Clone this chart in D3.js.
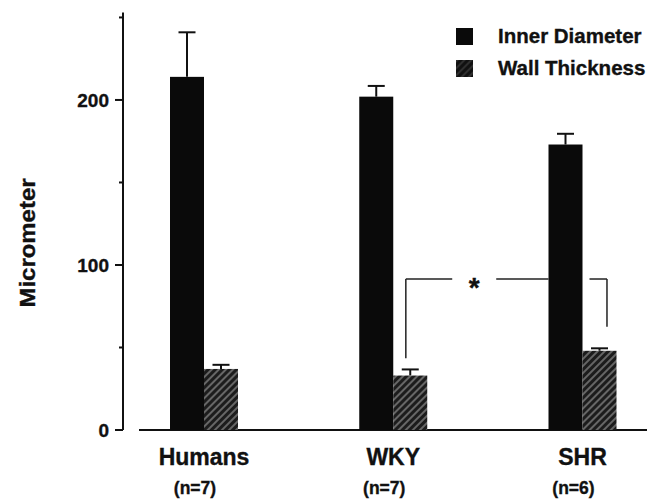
<!DOCTYPE html>
<html>
<head>
<meta charset="utf-8">
<script src="https://cdn.jsdelivr.net/npm/d3@7"></script>
<style>
    body { margin: 0; background: #fff; }
    text { font-family: "Liberation Sans", Arial, Helvetica, sans-serif; font-weight: bold; fill: #111; stroke: #111; stroke-width: 0.35px; }
</style>
</head>
<body>
<script>
(function(){

    var categories = ["Humans", "WKY", "SHR"];
    var sampleSizes = ["(n=7)", "(n=7)", "(n=6)"];
    var seriesNames = ["Inner Diameter", "Wall Thickness"];
    var innerDiameter = [214, 202, 173];
    var innerDiameterErr = [27, 6.5, 6.5];
    var wallThickness = [37, 33, 48];
    var wallThicknessErr = [2.5, 3.7, 1.5];
    var yTicks = [0, 50, 100, 150, 200, 250];
    var yLabels = [0, 100, 200];
    // significance bracket: WKY vs SHR wall thickness
    var bracketLevel = 91.5;
    var bracketFeet = [43.5, 62.5];

    window.onload = drawChart;

    function drawChart(){
        var width = 647,
            height = 500;

        var svg = d3.select("body")
            .append("svg")
            .attr("width", width)
            .attr("height", height);

        var defs = svg.append("defs");
        makeHatch(defs, "hatch", "#1c1c1c", "#b0b0b0");
        makeHatch(defs, "hatchDark", "#111", "#4a4a4a");

        var y = d3.scaleLinear()
            .domain([0, 253])
            .range([430, 12.5]);

        var x0 = d3.scalePoint()
            .domain(categories)
            .range([204, 582.5]);

        var x1 = d3.scaleBand()
            .domain(seriesNames)
            .range([-34, 34]);

        var bw = x1.bandwidth();

        var rows = categories.map(function(c, i){
            return [
                {cat: c, key: seriesNames[0], value: innerDiameter[i], err: innerDiameterErr[i]},
                {cat: c, key: seriesNames[1], value: wallThickness[i], err: wallThicknessErr[i]}
            ];
        });
        var bars = [].concat.apply([], rows);

        // y axis
        var yAxis = svg.append("g")
            .attr("class", "axis")
            .attr("transform", "translate(123,0)");

        yAxis.append("line")
            .attr("y1", y(253))
            .attr("y2", y(0))
            .attr("stroke", "#111")
            .attr("stroke-width", 2);

        yAxis.selectAll(".tick")
            .data(yTicks)
            .enter()
            .append("line")
            .attr("x1", d => yLabels.indexOf(d) >= 0 ? -8 : -4)
            .attr("x2", 0)
            .attr("y1", d => y(d))
            .attr("y2", d => y(d))
            .attr("stroke", "#111")
            .attr("stroke-width", 2);

        yAxis.selectAll(".tickLabel")
            .data(yLabels)
            .enter()
            .append("text")
            .attr("x", -14)
            .attr("y", d => y(d) + 7)
            .attr("text-anchor", "end")
            .style("font-size", "19px")
            .text(d => d);

        svg.append("text")
            .attr("transform", "translate(35," + 243 + ") rotate(-90)")
            .attr("text-anchor", "middle")
            .style("font-size", "22px")
            .attr("textLength", 129)
            .attr("lengthAdjust", "spacingAndGlyphs")
            .text("Micrometer");

        // x baseline
        svg.append("line")
            .attr("x1", 139)
            .attr("x2", width)
            .attr("y1", y(0))
            .attr("y2", y(0))
            .attr("stroke", "#111")
            .attr("stroke-width", 2);

        // bracket drawn under bars
        var wky = x0("WKY") + x1(seriesNames[1]),
            shr = x0("SHR") + x1(seriesNames[1]),
            bx1 = wky + bw * 0.37,
            bx2 = shr + bw * 0.72,
            by = y(bracketLevel),
            starX = bx1 + (bx2 - bx1) * 0.34;

        var segs = [
            [bx1, y(bracketFeet[0]), bx1, by],
            [bx1, by, starX - 22, by],
            [starX + 22, by, x0("SHR") + x1(seriesNames[0]), by],
            [shr + 7, by, bx2, by],
            [bx2, by, bx2, y(bracketFeet[1])]
        ];

        svg.selectAll(".bracket")
            .data(segs)
            .enter()
            .append("line")
            .attr("class", "bracket")
            .attr("x1", d => d[0])
            .attr("y1", d => d[1])
            .attr("x2", d => d[2])
            .attr("y2", d => d[3])
            .attr("stroke", "#222")
            .attr("stroke-width", 1.5);

        svg.append("text")
            .attr("x", starX)
            .attr("y", by + 18)
            .attr("text-anchor", "middle")
            .style("font-size", "28px")
            .text("*");

        // error bars
        var err = svg.selectAll(".err")
            .data(bars)
            .enter()
            .append("g")
            .attr("class", "err")
            .attr("transform", d => "translate(" + (x0(d.cat) + x1(d.key) + bw / 2) + ",0)");

        err.append("line")
            .attr("y1", d => y(d.value))
            .attr("y2", d => y(d.value + d.err))
            .attr("stroke", "#111")
            .attr("stroke-width", 2);

        err.append("line")
            .attr("x1", -8.5)
            .attr("x2", 8.5)
            .attr("y1", d => y(d.value + d.err))
            .attr("y2", d => y(d.value + d.err))
            .attr("stroke", "#111")
            .attr("stroke-width", 2);

        // bars
        svg.selectAll(".bar")
            .data(bars)
            .enter()
            .append("rect")
            .attr("class", "bar")
            .attr("x", d => x0(d.cat) + x1(d.key))
            .attr("y", d => y(d.value))
            .attr("width", bw)
            .attr("height", d => y(0) - y(d.value))
            .attr("fill", d => d.key === seriesNames[0] ? "#0a0a0a" : "url(#hatch)");

        // category labels
        svg.selectAll(".cat")
            .data(categories)
            .enter()
            .append("text")
            .attr("x", d => x0(d))
            .attr("y", 465)
            .attr("text-anchor", "middle")
            .style("font-size", "23px")
            .text(d => d);

        svg.selectAll(".nlab")
            .data(sampleSizes)
            .enter()
            .append("text")
            .attr("x", (d, i) => x0(categories[i]) - 9)
            .attr("y", 494)
            .attr("text-anchor", "middle")
            .style("font-size", "17.5px")
            .text(d => d);

        drawLegend(svg);
    }

    function makeHatch(defs, id, bg, fg){
        var p = defs.append("pattern")
            .attr("id", id)
            .attr("patternUnits", "userSpaceOnUse")
            .attr("width", 5)
            .attr("height", 5)
            .attr("patternTransform", "rotate(45)");
        p.append("rect").attr("width", 5).attr("height", 5).attr("fill", bg);
        p.append("line")
            .attr("x1", 1).attr("x2", 1)
            .attr("y1", 0).attr("y2", 5)
            .attr("stroke", fg)
            .attr("stroke-width", 1);
    }

    function drawLegend(svg){
        var legend = svg.append("g")
            .attr("class", "legend")
            .attr("transform", "translate(456,28)");

        var item = legend.selectAll(".item")
            .data(seriesNames)
            .enter()
            .append("g")
            .attr("transform", (d, i) => "translate(0," + i * 32 + ")");

        item.append("rect")
            .attr("width", 17)
            .attr("height", 17)
            .attr("fill", (d, i) => i === 0 ? "#0a0a0a" : "url(#hatchDark)");

        item.append("text")
            .attr("x", 42)
            .attr("y", 15)
            .style("font-size", "20.5px")
            .text(d => d);
    }

})();
</script>
</body>
</html>
